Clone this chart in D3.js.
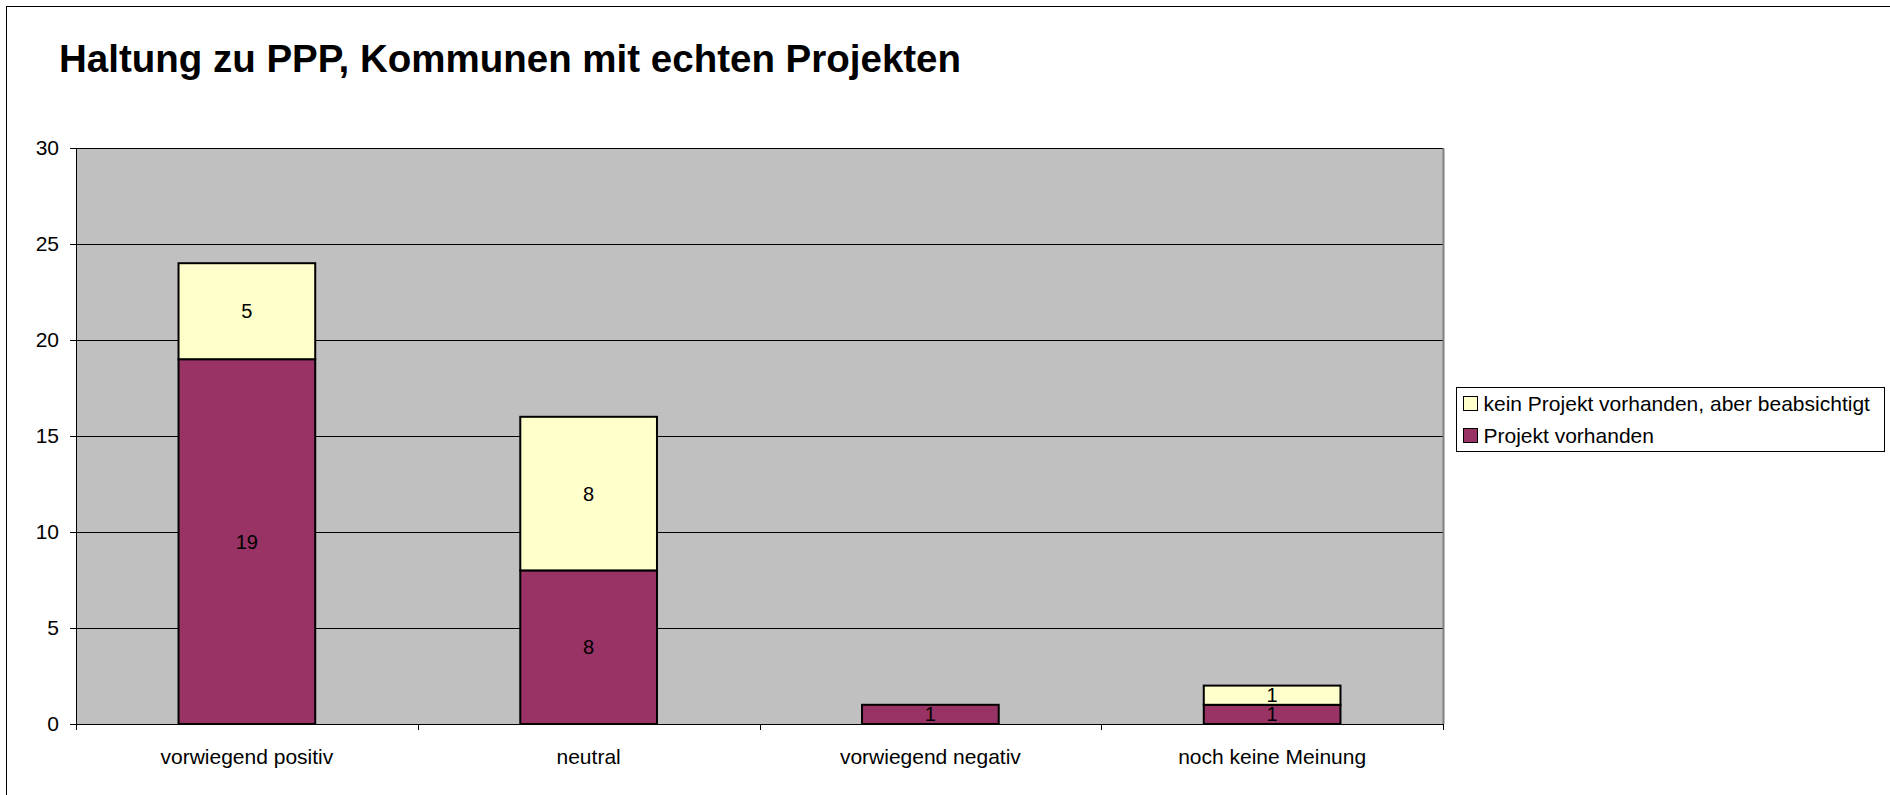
<!DOCTYPE html>
<meta charset="utf-8">
<style>
body { margin: 0; background: #fff; }
svg { font-family: "Liberation Sans", Arial, sans-serif; }
.tick text { font-size: 21px; fill: #000; }
</style>
<body>
<script src="https://d3js.org/d3.v7.min.js"></script>
<script>
// chart data
var categories = ["vorwiegend positiv", "neutral", "vorwiegend negativ", "noch keine Meinung"];
var projektVorhanden = [19, 8, 1, 1];
var keinProjekt = [5, 8, 0, 1];
var seriesNames = ["Projekt vorhanden", "kein Projekt vorhanden, aber beabsichtigt"];
var seriesColors = ["#993366", "#FFFFCC"];
var yTicks = [0, 5, 10, 15, 20, 25, 30];

var W = 1890, H = 795;
var margin = {top: 148, left: 76, right: 447, bottom: 71};
var width = W - margin.left - margin.right,
    height = H - margin.top - margin.bottom;

var svg = d3.select("body").append("svg")
    .attr("width", W)
    .attr("height", H);

// outer frame
svg.append("rect")
    .attr("x", 6.5).attr("y", 6.5)
    .attr("width", W).attr("height", H)
    .attr("fill", "none").attr("stroke", "#000").attr("stroke-width", 1);

svg.append("text")
    .attr("x", 59).attr("y", 72)
    .style("font-size", "38.5px")
    .style("font-weight", "bold")
    .text("Haltung zu PPP, Kommunen mit echten Projekten");

var g = svg.append("g")
    .attr("transform", "translate(" + margin.left + "," + margin.top + ")");

var x = d3.scaleBand()
    .domain(categories)
    .range([0, width])
    .paddingInner(0.6)
    .paddingOuter(0.3);

var y = d3.scaleLinear()
    .domain([0, 30])
    .range([height, 0]);

// plot background
g.append("rect")
    .attr("width", width).attr("height", height)
    .attr("fill", "#C0C0C0");

// grid lines
g.selectAll(".grid")
    .data(yTicks.filter(function(d) { return d > 0; }))
  .enter().append("line")
    .attr("x1", 0).attr("x2", width)
    .attr("y1", function(d) { return Math.round(y(d)) + 0.5; })
    .attr("y2", function(d) { return Math.round(y(d)) + 0.5; })
    .attr("stroke", "#000").attr("stroke-width", 1);

// right border of plot area
g.append("line")
    .attr("x1", width + 0.5).attr("x2", width + 0.5)
    .attr("y1", 0).attr("y2", height)
    .attr("stroke", "#808080").attr("stroke-width", 2);

// stacked data
var rows = categories.map(function(c, i) {
  return {cat: c, a: projektVorhanden[i], b: keinProjekt[i]};
});
var stack = d3.stack().keys(["a", "b"]);
var layers = stack(rows);

var layer = g.selectAll(".layer")
    .data(layers)
  .enter().append("g")
    .attr("fill", function(d, i) { return seriesColors[i]; });

layer.selectAll("rect")
    .data(function(d) { return d.filter(function(p) { return p[1] - p[0] > 0; }); })
  .enter().append("rect")
    .attr("x", function(d) { return x(d.data.cat); })
    .attr("width", x.bandwidth())
    .attr("y", function(d) { return y(d[1]); })
    .attr("height", function(d) { return y(d[0]) - y(d[1]); })
    .attr("stroke", "#000").attr("stroke-width", 2);

layer.selectAll("text")
    .data(function(d) { return d.filter(function(p) { return p[1] - p[0] > 0; }); })
  .enter().append("text")
    .attr("x", function(d) { return x(d.data.cat) + x.bandwidth() / 2; })
    .attr("y", function(d) { return (y(d[0]) + y(d[1])) / 2; })
    .attr("dy", "0.35em")
    .attr("text-anchor", "middle")
    .attr("fill", "#000")
    .style("font-size", "20px")
    .text(function(d) { return d[1] - d[0]; });

// y axis
var yAxis = g.append("g")
    .call(d3.axisLeft(y).tickValues(yTicks).tickSize(6).tickPadding(11));
yAxis.select(".domain").attr("stroke", "#000");

// x axis: ticks at category boundaries
var xAxis = g.append("g")
    .attr("transform", "translate(0," + height + ")");
xAxis.append("line")
    .attr("x1", 0).attr("x2", width + 1)
    .attr("y1", 0.5).attr("y2", 0.5)
    .attr("stroke", "#000");
var step = x.step();
xAxis.selectAll(".xt")
    .data(d3.range(categories.length + 1))
  .enter().append("line")
    .attr("x1", function(i) { return Math.round(i * step) + 0.5; })
    .attr("x2", function(i) { return Math.round(i * step) + 0.5; })
    .attr("y1", 0).attr("y2", 6)
    .attr("stroke", "#000");
xAxis.selectAll(".xl")
    .data(categories)
  .enter().append("text")
    .attr("x", function(d) { return x(d) + x.bandwidth() / 2; })
    .attr("y", 33)
    .attr("dy", "0.35em")
    .attr("text-anchor", "middle")
    .style("font-size", "21px")
    .text(function(d) { return d; });

// legend
var legend = svg.append("g").attr("transform", "translate(1456.5,387.5)");
legend.append("rect")
    .attr("width", 428).attr("height", 64)
    .attr("fill", "#fff").attr("stroke", "#000");
var legendItems = [1, 0];
legend.selectAll(".li")
    .data(legendItems)
  .enter().append("g")
    .attr("transform", function(d, i) { return "translate(7," + (16 + i * 32) + ")"; })
    .each(function(d) {
      var it = d3.select(this);
      it.append("rect")
        .attr("x", 0).attr("y", -7).attr("width", 14).attr("height", 14)
        .attr("fill", seriesColors[d]).attr("stroke", "#000");
      it.append("text")
        .attr("x", 20).attr("dy", "0.35em")
        .style("font-size", "21px")
        .text(seriesNames[d]);
    });
</script>
</body>
